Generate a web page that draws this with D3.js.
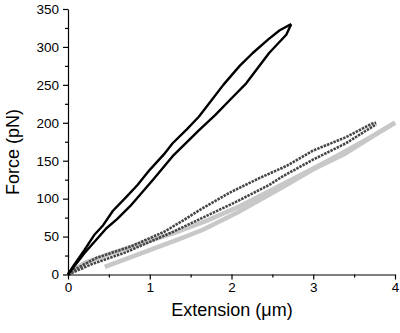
<!DOCTYPE html>
<html lang="en">
<head>
    <meta charset="UTF-8">
    <title>Force vs Extension</title>
    <script src="https://d3js.org/d3.v7.min.js"></script>
    <style>
        body { margin: 0; background: #fff; }
        svg text { font-family: Arial, "Liberation Sans", sans-serif; fill: #000; }
        .axis path, .axis line { stroke: #000; stroke-width: 1.2px; }
        .axis text { font-size: 13.5px; }
    </style>
</head>
<body>
<svg id="chart"></svg>
<script>
    const width = 400, height = 333;

    // black loop (stiff molecule): stretching and relaxing branches
    const blackUpX = [0, 0.07, 0.2, 0.32, 0.43, 0.55, 0.72, 0.85, 1.0, 1.17, 1.28, 1.45, 1.6, 1.73, 1.9, 2.1, 2.26, 2.45, 2.59, 2.73];
    const blackUpF = [0, 12, 32, 52, 65, 84, 103, 118, 138, 158, 173, 191, 208, 226, 250, 275, 292, 310, 322, 330];
    const blackDownX = [0, 0.2, 0.47, 0.6, 0.76, 1.04, 1.28, 1.61, 1.8, 1.98, 2.18, 2.46, 2.67, 2.73];
    const blackDownF = [0, 28, 61, 73, 90, 125, 156, 191, 210, 230, 252, 292, 316, 330];

    // dark grey loop
    const darkUpX = [0, 0.07, 0.35, 0.77, 1.17, 1.39, 1.61, 1.98, 2.34, 2.67, 2.99, 3.4, 3.72, 3.77];
    const darkUpF = [0, 6, 22, 37, 56, 70, 85, 108, 127, 143, 163, 181, 199, 200];
    const darkDownX = [0, 0.3, 0.7, 1.0, 1.28, 1.65, 2.06, 2.46, 2.62, 2.99, 3.4, 3.77];
    const darkDownF = [0, 14, 29, 43, 56, 75, 96, 118, 129, 151, 173, 198];

    // light grey trace
    const lightUpX = [0, 0.2, 0.5, 0.9, 1.3, 1.7, 2.1, 2.5, 2.9, 3.3, 3.7, 4.0];
    const lightUpF = [0, 15, 27, 41, 55, 71, 90, 112, 134, 157, 181, 200];
    const lightDownX = [0.45, 0.77, 1.17, 1.39, 1.65, 2.06, 2.46, 2.67, 2.99, 3.4, 3.8, 4.0];
    const lightDownF = [10, 23, 39, 48, 59, 81, 105, 118, 138, 160, 187, 200];

    const xTicks = [0, 1, 2, 3, 4];
    const yTicks = [0, 50, 100, 150, 200, 250, 300, 350];

    const series = [
        { x: lightUpX, y: lightUpF, color: "#c8c8c8", w: 4.5, dash: null },
        { x: lightDownX, y: lightDownF, color: "#c8c8c8", w: 4.5, dash: null },
        { x: darkUpX, y: darkUpF, color: "#454545", w: 2.6, dash: "2.5,1" },
        { x: darkDownX, y: darkDownF, color: "#454545", w: 2.6, dash: "2.5,1" },
        { x: blackUpX, y: blackUpF, color: "#000", w: 2.4, dash: null },
        { x: blackDownX, y: blackDownF, color: "#000", w: 2.4, dash: null }
    ];

    const x = d3.scaleLinear().domain([0, 4]).range([68, 395]);
    const y = d3.scaleLinear().domain([0, 350]).range([274.5, 9]);

    const svg = d3.select("#chart").attr("width", width).attr("height", height);

    const line = d3.line().x(d => x(d[0])).y(d => y(d[1]));

    series.forEach(s => {
        const pts = s.x.map((v, i) => [v, s.y[i]]);
        svg.append("path")
            .attr("d", line(pts))
            .attr("fill", "none")
            .attr("stroke", s.color)
            .attr("stroke-width", s.w)
            .attr("stroke-linejoin", "round")
            .attr("stroke-dasharray", s.dash);
    });

    // minor ticks first, then major axes on top
    svg.append("g").attr("class", "axis")
        .attr("transform", `translate(0,${y(0)})`)
        .call(d3.axisBottom(x).tickValues(d3.range(0.5, 4, 1)).tickSize(3).tickFormat(""))
        .select(".domain").remove();
    svg.append("g").attr("class", "axis")
        .attr("transform", `translate(${x(0)},0)`)
        .call(d3.axisLeft(y).tickValues(d3.range(25, 350, 50)).tickSize(3).tickFormat(""))
        .select(".domain").remove();

    svg.append("g").attr("class", "axis")
        .attr("transform", `translate(0,${y(0)})`)
        .call(d3.axisBottom(x).tickValues(xTicks).tickFormat(d3.format("d"))
            .tickSize(5).tickSizeOuter(0).tickPadding(3));
    svg.append("g").attr("class", "axis")
        .attr("transform", `translate(${x(0)},0)`)
        .call(d3.axisLeft(y).tickValues(yTicks).tickFormat(d3.format("d"))
            .tickSize(5).tickSizeOuter(0).tickPadding(4));

    svg.append("text")
        .attr("x", 232).attr("y", 316)
        .attr("text-anchor", "middle")
        .attr("font-size", 18)
        .text("Extension (\u03bcm)");

    svg.append("text")
        .attr("transform", "translate(19,152) rotate(-90)")
        .attr("text-anchor", "middle")
        .attr("font-size", 18)
        .text("Force (pN)");
</script>
</body>
</html>
